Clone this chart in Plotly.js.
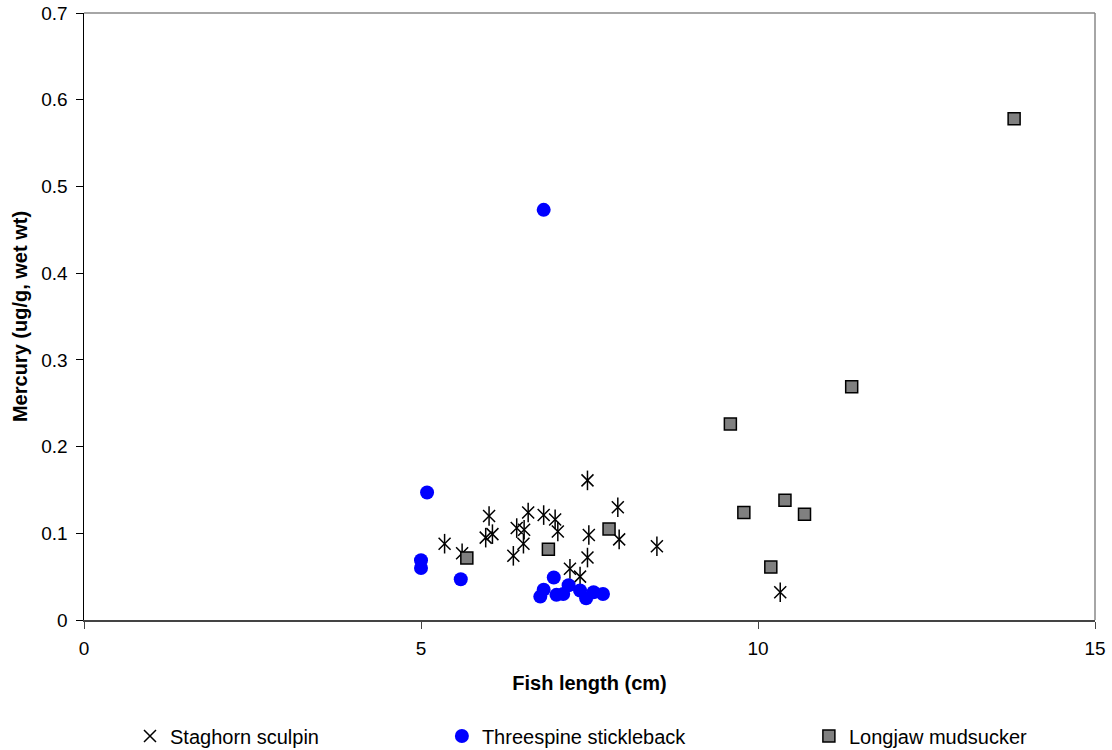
<!DOCTYPE html>
<html>
<head>
<meta charset="utf-8">
<script src="https://cdn.plot.ly/plotly-3.0.1.min.js"></script>
<style>html,body{margin:0;padding:0;background:#fff;}#chart{width:1112px;height:750px;}</style>
</head>
<body>
<div id="chart"></div>
<script>
const staghornX = [5.35, 5.61, 5.96, 6.01, 6.06, 6.37, 6.42, 6.52, 6.53, 6.59, 6.82, 6.99, 7.03, 7.21, 7.36, 7.47, 7.47, 7.49, 7.92, 7.94, 8.50, 10.33];
const staghornY = [0.088, 0.077, 0.095, 0.120, 0.099, 0.074, 0.106, 0.088, 0.104, 0.124, 0.121, 0.116, 0.102, 0.059, 0.050, 0.161, 0.072, 0.098, 0.130, 0.093, 0.085, 0.032];

const sticklebackX = [5.00, 5.00, 5.09, 5.59, 6.77, 6.82, 6.82, 6.97, 7.01, 7.11, 7.19, 7.36, 7.45, 7.56, 7.70];
const sticklebackY = [0.069, 0.060, 0.147, 0.047, 0.027, 0.035, 0.473, 0.049, 0.029, 0.030, 0.040, 0.034, 0.025, 0.032, 0.030];

const mudsuckerX = [5.68, 6.89, 7.79, 9.59, 9.79, 10.19, 10.40, 10.69, 11.39, 13.80];
const mudsuckerY = [0.0715, 0.0815, 0.105, 0.226, 0.124, 0.061, 0.138, 0.122, 0.269, 0.578];

const xTicks = [0, 5, 10, 15];
const yTicks = [0, 0.1, 0.2, 0.3, 0.4, 0.5, 0.6, 0.7];
const yTickText = ['0', '0.1', '0.2', '0.3', '0.4', '0.5', '0.6', '0.7'];

const font = 'Arial, "Liberation Sans", sans-serif';

const traces = [
  {x: staghornX, y: staghornY, mode: 'markers', type: 'scatter', name: 'Staghorn sculpin', legend: 'legend',
   legendgroup: 'sculpin',
   marker: {symbol: 'x-thin-open', size: 12, color: '#000', line: {color: '#000', width: 1.5}}},
  {x: staghornX, y: staghornY, mode: 'markers', type: 'scatter', name: 'Staghorn sculpin', showlegend: false,
   legendgroup: 'sculpin',
   marker: {symbol: 'line-ns-open', size: 14, color: '#000', line: {color: '#000', width: 1.5}}},
  {x: sticklebackX, y: sticklebackY, mode: 'markers', type: 'scatter', name: 'Threespine stickleback', legend: 'legend2',
   marker: {symbol: 'circle', size: 14, color: '#0000ff', line: {width: 0}}},
  {x: mudsuckerX, y: mudsuckerY, mode: 'markers', type: 'scatter', name: 'Longjaw mudsucker', legend: 'legend3',
   marker: {symbol: 'square', size: 12, color: '#808080', line: {color: '#000', width: 1.5}}}
];

const legBase = {orientation: 'h', yanchor: 'middle', y: -0.191, xanchor: 'left', bgcolor: 'rgba(0,0,0,0)',
  font: {family: font, size: 20, color: '#000'}, itemwidth: 30, tracegroupgap: 0};

const layout = {
  width: 1112, height: 750,
  margin: {l: 84, r: 17, t: 13, b: 130, autoexpand: false},
  paper_bgcolor: '#fff', plot_bgcolor: '#fff',
  font: {family: font, color: '#000'},
  showlegend: true,
  xaxis: {
    range: [0, 15], tickvals: xTicks, ticktext: xTicks.map(String),
    showgrid: false, zeroline: false, showline: true, linecolor: '#444', linewidth: 1.5,
    ticks: 'outside', ticklen: 7, tickcolor: '#444', tickwidth: 1,
    ticklabelstandoff: 4,
    tickfont: {family: font, size: 19, color: '#000'},
    title: {text: 'Fish length (cm)', font: {family: font, size: 20, color: '#000', weight: 'bold'}, standoff: 17}
  },
  yaxis: {
    range: [0, 0.7], tickvals: yTicks, ticktext: yTickText,
    showgrid: false, zeroline: false, showline: true, linecolor: '#000', linewidth: 1.5,
    ticks: 'outside', ticklen: 7, tickcolor: '#000', tickwidth: 1,
    ticklabelstandoff: 4,
    tickfont: {family: font, size: 19, color: '#000'},
    title: {text: 'Mercury (ug/g, wet wt)', font: {family: font, size: 20, color: '#000', weight: 'bold'}, standoff: 8}
  },
  shapes: [
    {type: 'line', xref: 'paper', yref: 'paper', x0: 0, x1: 1, y0: 1, y1: 1, line: {color: '#888', width: 1.5}, layer: 'below'},
    {type: 'line', xref: 'paper', yref: 'paper', x0: 1, x1: 1, y0: 0, y1: 1, line: {color: '#888', width: 1.5}, layer: 'below'}
  ],
  legend: Object.assign({}, legBase, {x: 0.0455}),
  legend2: Object.assign({}, legBase, {x: 0.354}),
  legend3: Object.assign({}, legBase, {x: 0.717})
};

Plotly.newPlot('chart', traces, layout, {displayModeBar: false, staticPlot: true});
</script>
</body>
</html>
